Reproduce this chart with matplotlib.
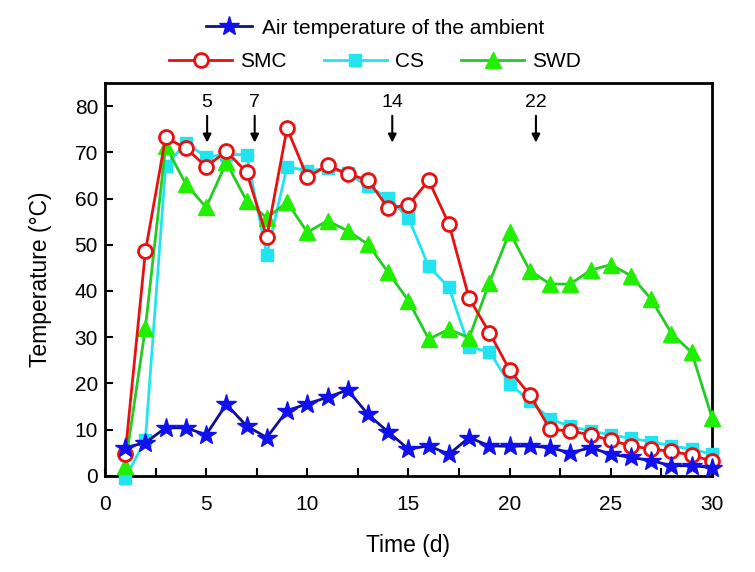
import numpy as np
import matplotlib
matplotlib.use('Agg')
import matplotlib.pyplot as plt

plt.rcParams['font.family'] = ['Liberation Sans', 'DejaVu Sans']

# Data
days = np.arange(1, 31)
air = [6.1, 7.2, 10.4, 10.4, 8.9, 15.5, 10.8, 8.3, 14.1, 15.6,
       17.0, 18.6, 13.3, 9.5, 5.8, 6.5, 4.7, 8.3, 6.5, 6.4,
       6.5, 6.1, 5.0, 6.1, 4.7, 4.0, 3.3, 2.2, 2.2, 1.8]
smc = [4.7, 48.6, 73.2, 70.9, 66.9, 70.2, 65.7, 51.7, 75.2, 64.6,
       67.2, 65.3, 64.0, 57.9, 58.6, 63.9, 54.5, 38.4, 31.0, 22.9,
       17.5, 10.1, 9.7, 8.9, 7.7, 6.5, 5.8, 5.3, 4.5, 3.2]
cs = [-0.5, 7.8, 67.0, 72.0, 69.0, 69.5, 69.5, 47.8, 66.9, 66.0,
      66.5, 65.5, 62.6, 60.2, 55.8, 45.3, 40.8, 27.8, 26.9, 19.9,
      16.2, 12.3, 10.7, 9.7, 8.9, 8.1, 7.4, 6.5, 5.8, 4.7]
swd = [2.2, 32.1, 71.4, 63.1, 58.1, 67.8, 59.5, 55.8, 59.2, 52.7,
       55.2, 53.0, 50.1, 44.0, 37.9, 29.6, 31.7, 29.9, 41.8, 52.7,
       44.4, 41.5, 41.5, 44.5, 45.7, 43.3, 38.2, 30.8, 26.7, 12.6]

arrow_x = [5.05, 7.4, 14.2, 21.3]
arrow_labels = ['5', '7', '14', '22']

fig = plt.figure(figsize=(7.55, 5.72), dpi=100)
ax = fig.add_axes([0.139, 0.168, 0.804, 0.687])

ax.plot(days, cs, color='#22E4F0', lw=2, marker='s', ms=8,
        mfc='#22E4F0', mec='#22E4F0', clip_on=False, zorder=3, label='CS')
ax.plot(days, swd, color='#22CC22', lw=2, marker='^', ms=11,
        mfc='#22EE00', mec='#22EE00', clip_on=False, zorder=4, label='SWD')
ax.plot(days, smc, color='#E81010', lw=2, marker='o', ms=10,
        mfc='white', mec='#E81010', mew=2, clip_on=False, zorder=5, label='SMC')
ax.plot(days, air, color='#10108C', lw=2, marker='*', ms=15,
        mfc='#1010F0', mec='#1010F0', clip_on=False, zorder=6,
        label='Air temperature of the ambient')

for xa, lab in zip(arrow_x, arrow_labels):
    ax.annotate('', xy=(xa, 71.5), xytext=(xa, 78.5),
                arrowprops=dict(arrowstyle='-|>', color='black', lw=1.5,
                                mutation_scale=12))
    ax.text(xa, 79.0, lab, ha='center', va='bottom', fontsize=14)

ax.set_xlim(0, 30)
ax.set_ylim(0, 85)
ax.set_xticks([0, 5, 10, 15, 20, 25, 30])
ax.set_xticks(np.arange(2.5, 30, 5), minor=True)
ax.set_yticks(np.arange(0, 81, 10))
ax.tick_params(axis='both', which='both', direction='in', labelsize=15,
               width=1.5, top=False, right=False)
ax.tick_params(axis='both', which='major', length=6)
ax.tick_params(axis='x', which='major', pad=14)
ax.tick_params(axis='y', which='major', pad=5)
ax.tick_params(axis='x', which='minor', length=6)
for s in ax.spines.values():
    s.set_linewidth(2)

ax.set_xlabel('Time (d)', fontsize=16.5, labelpad=14)
ax.set_ylabel('Temperature (°C)', fontsize=16.5, labelpad=16)

h, l = ax.get_legend_handles_labels()
fig.legend([h[3]], [l[3]], loc='center', bbox_to_anchor=(0.497, 0.951),
           frameon=False, fontsize=15, handlelength=2.2, handletextpad=0.5)
fig.legend([h[2], h[0], h[1]], [l[2], l[0], l[1]], loc='center',
           bbox_to_anchor=(0.497, 0.892), ncol=3, frameon=False, fontsize=15,
           handlelength=3, handletextpad=0.4, columnspacing=1.8)

fig.savefig('out.png', dpi=100)
